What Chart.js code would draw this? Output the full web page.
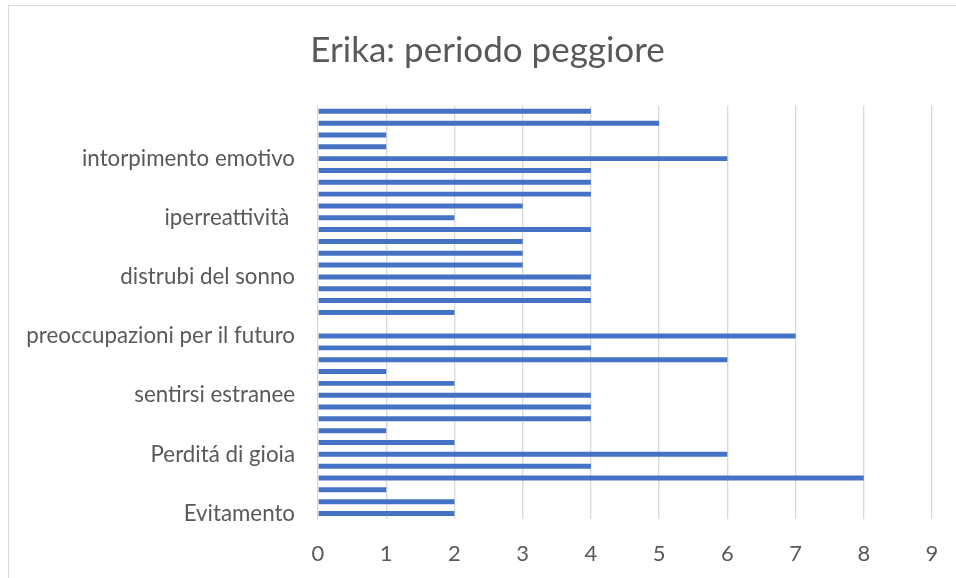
<!DOCTYPE html>
<html>
<head>
<meta charset="utf-8">
<title>Erika: periodo peggiore</title>
<script src="https://cdn.jsdelivr.net/npm/chart.js@4.4.1/dist/chart.umd.min.js"></script>
<style>
    html, body { margin: 0; padding: 0; background: #fff; }
    #wrap { width: 956px; height: 578px; position: relative; overflow: hidden; }
</style>
</head>
<body>
<div id="wrap"><canvas id="chart" width="956" height="578"></canvas></div>
<script>
// categories from bottom to top (Excel order), only every 5th one is labelled
const categories = [
    'Evitamento', '', '', '', '',
    'Perditá di gioia', '', '', '', '',
    'sentirsi estranee', '', '', '', '',
    'preoccupazioni per il futuro', '', '', '', '',
    'distrubi del sonno', '', '', '', '',
    'iperreattività ', '', '', '', '',
    'intorpimento emotivo', '', '', '', ''
];
const values = [
    2, 2, 1, 8, 4,
    6, 2, 1, 4, 4,
    4, 2, 1, 6, 4,
    7, 0, 2, 4, 4,
    4, 3, 3, 3, 4,
    2, 3, 4, 4, 4,
    6, 1, 1, 5, 4
];
const xMin = 0;
const xMax = 9;
const xStep = 1;
const chartTitle = 'Erika: periodo peggiore';

const FONT = 'Lato, "Open Sans", sans-serif';
const TEXT = '#595959';
const GRID = '#d9d9d9';

// thin frame around the chart, like the Excel chart border
const framePlugin = {
    id: 'frame',
    beforeDraw(chart) {
        const ctx = chart.ctx;
        ctx.save();
        ctx.strokeStyle = GRID;
        ctx.lineWidth = 1;
        ctx.strokeRect(8.5, 5.5, 2000, 2000);
        ctx.restore();
    }
};

// Excel centres the title on the whole frame, not on the plot
const titleShift = {
    id: 'titleShift',
    afterLayout(chart) {
        if (chart.titleBlock) {
            chart.titleBlock.left = 19;
            chart.titleBlock.right = 956;
        }
    }
};

const ctx = document.getElementById('chart').getContext('2d');
new Chart(ctx, {
    type: 'bar',
    data: {
        labels: categories,
        datasets: [{
            data: values,
            backgroundColor: '#4472c4',
            borderWidth: 0,
            barPercentage: 0.42,
            categoryPercentage: 1
        }]
    },
    options: {
        responsive: false,
        animation: false,
        indexAxis: 'y',
        layout: {padding: {left: 0, right: 24, top: 0, bottom: 0}},
        plugins: {
            legend: {display: false},
            tooltip: {enabled: false},
            title: {
                display: true,
                text: chartTitle,
                color: TEXT,
                font: {family: FONT, size: 35, weight: 'normal'},
                padding: {top: 30, bottom: 33.4}
            }
        },
        scales: {
            x: {
                min: xMin,
                max: xMax,
                ticks: {stepSize: xStep, color: TEXT, font: {family: FONT, size: 22}, padding: 4},
                // invisible tick marks keep the labels away from the plot
                grid: {color: GRID, lineWidth: 1.3, drawTicks: true, tickLength: 17, tickColor: 'rgba(0,0,0,0)'},
                border: {display: false},
                afterFit: s => { s.height = 58.6; }
            },
            y: {
                reverse: true,
                ticks: {autoSkip: false, color: TEXT, font: {family: FONT, size: 22.3}, padding: 15},
                grid: {display: false},
                border: {display: false},
                afterFit: s => { s.width = 318; }
            }
        }
    },
    plugins: [framePlugin, titleShift]
});
</script>
</body>
</html>
